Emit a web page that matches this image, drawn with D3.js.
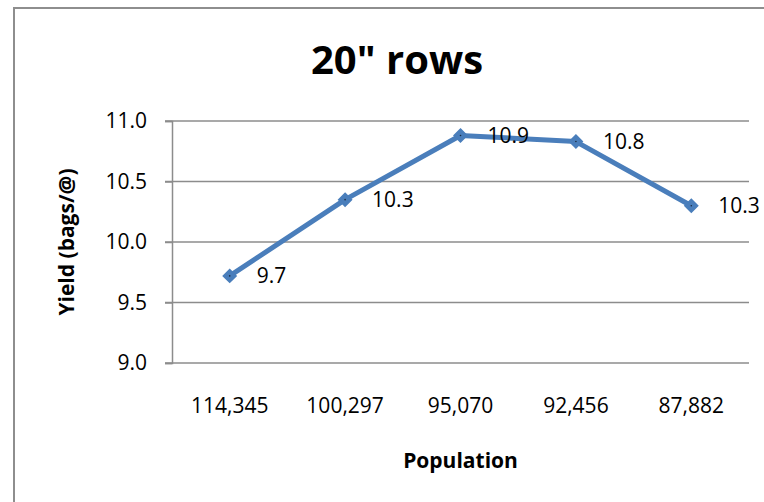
<!DOCTYPE html>
<html>
<head>
<meta charset="utf-8">
<script src="https://cdn.jsdelivr.net/npm/d3@7"></script>
<style>
  html, body { margin: 0; padding: 0; background: #fff; }
  svg { display: block; }
  text { font-family: "Open Sans", sans-serif; fill: #000; }
</style>
</head>
<body>
<svg id="chart" width="764" height="502"></svg>
<script>
const categories = ["114,345", "100,297", "95,070", "92,456", "87,882"];
const yieldValues = [9.72, 10.35, 10.88, 10.83, 10.30];
const dataLabels = ["9.7", "10.3", "10.9", "10.8", "10.3"];
const yTicks = [9.0, 9.5, 10.0, 10.5, 11.0];
const titleText = "20\" rows";
const xTitle = "Population";
const yTitle = "Yield (bags/@)";

const svg = d3.select("#chart");
const W = 764, H = 502;
const plot = { left: 172, right: 749, top: 121, bottom: 363 };
const blue = "#4A7EBB";
const gridColor = "#8C8C8C";
const labelSize = 21;

// chart frame
svg.append("rect")
  .attr("x", 14).attr("y", 8)
  .attr("width", W + 20).attr("height", H + 20)
  .attr("fill", "#fff")
  .attr("stroke", "#8E8E8E").attr("stroke-width", 2);

const x = d3.scaleBand().domain(categories).range([plot.left, plot.right]).paddingInner(0).paddingOuter(0);
const y = d3.scaleLinear().domain([9.0, 11.0]).range([plot.bottom, plot.top]);

// gridlines
svg.append("g")
  .selectAll("line")
  .data(yTicks)
  .join("line")
  .attr("x1", plot.left - 7).attr("x2", plot.right)
  .attr("y1", d => y(d)).attr("y2", d => y(d))
  .attr("stroke", gridColor).attr("stroke-width", 1.5);

// y axis
const yAxis = d3.axisLeft(y).tickValues(yTicks).tickFormat(d3.format(".1f")).tickSize(7).tickPadding(18);
const gy = svg.append("g").attr("transform", `translate(${plot.left},0)`).call(yAxis);
gy.attr("font-size", null).attr("font-family", null);
gy.select(".domain").attr("stroke", gridColor).attr("stroke-width", 1.5);
gy.selectAll(".tick line").attr("stroke", gridColor).attr("stroke-width", 1.5);
gy.selectAll(".tick text").attr("font-size", labelSize).attr("fill", "#000");

// x axis
const xAxis = d3.axisBottom(x).tickSize(0).tickPadding(35);
const gx = svg.append("g").attr("transform", `translate(0,${plot.bottom})`).call(xAxis);
gx.attr("font-size", null).attr("font-family", null);
gx.select(".domain").remove();
gx.selectAll(".tick text").attr("font-size", labelSize).attr("fill", "#000");

// line
const pts = categories.map((c, i) => ({ c, v: yieldValues[i], lbl: dataLabels[i] }));
const cx = d => x(d.c) + x.bandwidth() / 2;
const line = d3.line().x(cx).y(d => y(d.v));
svg.append("path")
  .datum(pts)
  .attr("d", line)
  .attr("fill", "none")
  .attr("stroke", blue)
  .attr("stroke-width", 5)
  .attr("stroke-linejoin", "round");

// markers
const sym = d3.symbol().type(d3.symbolDiamond2).size(105);
svg.append("g").selectAll("path")
  .data(pts)
  .join("path")
  .attr("d", sym)
  .attr("transform", d => `translate(${cx(d)},${y(d.v)})`)
  .attr("fill", blue)
  .attr("stroke", blue)
  .attr("stroke-width", 1.5);
svg.append("g").selectAll("circle")
  .data(pts)
  .join("circle")
  .attr("cx", cx)
  .attr("cy", d => y(d.v))
  .attr("r", 0.8)
  .attr("fill", "#1a2a40");

// data labels
svg.append("g").selectAll("text")
  .data(pts)
  .join("text")
  .attr("x", d => cx(d) + 27)
  .attr("y", d => y(d.v))
  .attr("dy", "0.35em")
  .attr("font-size", labelSize)
  .text(d => d.lbl);

// title
svg.append("text")
  .attr("x", 397).attr("y", 74)
  .attr("text-anchor", "middle")
  .attr("font-size", 40).attr("font-weight", "bold")
  .text(titleText);

// axis titles
svg.append("text")
  .attr("x", (plot.left + plot.right) / 2).attr("y", 468)
  .attr("text-anchor", "middle")
  .attr("font-size", labelSize).attr("font-weight", "bold")
  .text(xTitle);

svg.append("text")
  .attr("transform", `translate(67,${(plot.top + plot.bottom) / 2}) rotate(-90)`)
  .attr("text-anchor", "middle")
  .attr("dy", "0.35em")
  .attr("font-size", labelSize).attr("font-weight", "bold")
  .text(yTitle);
</script>
</body>
</html>
